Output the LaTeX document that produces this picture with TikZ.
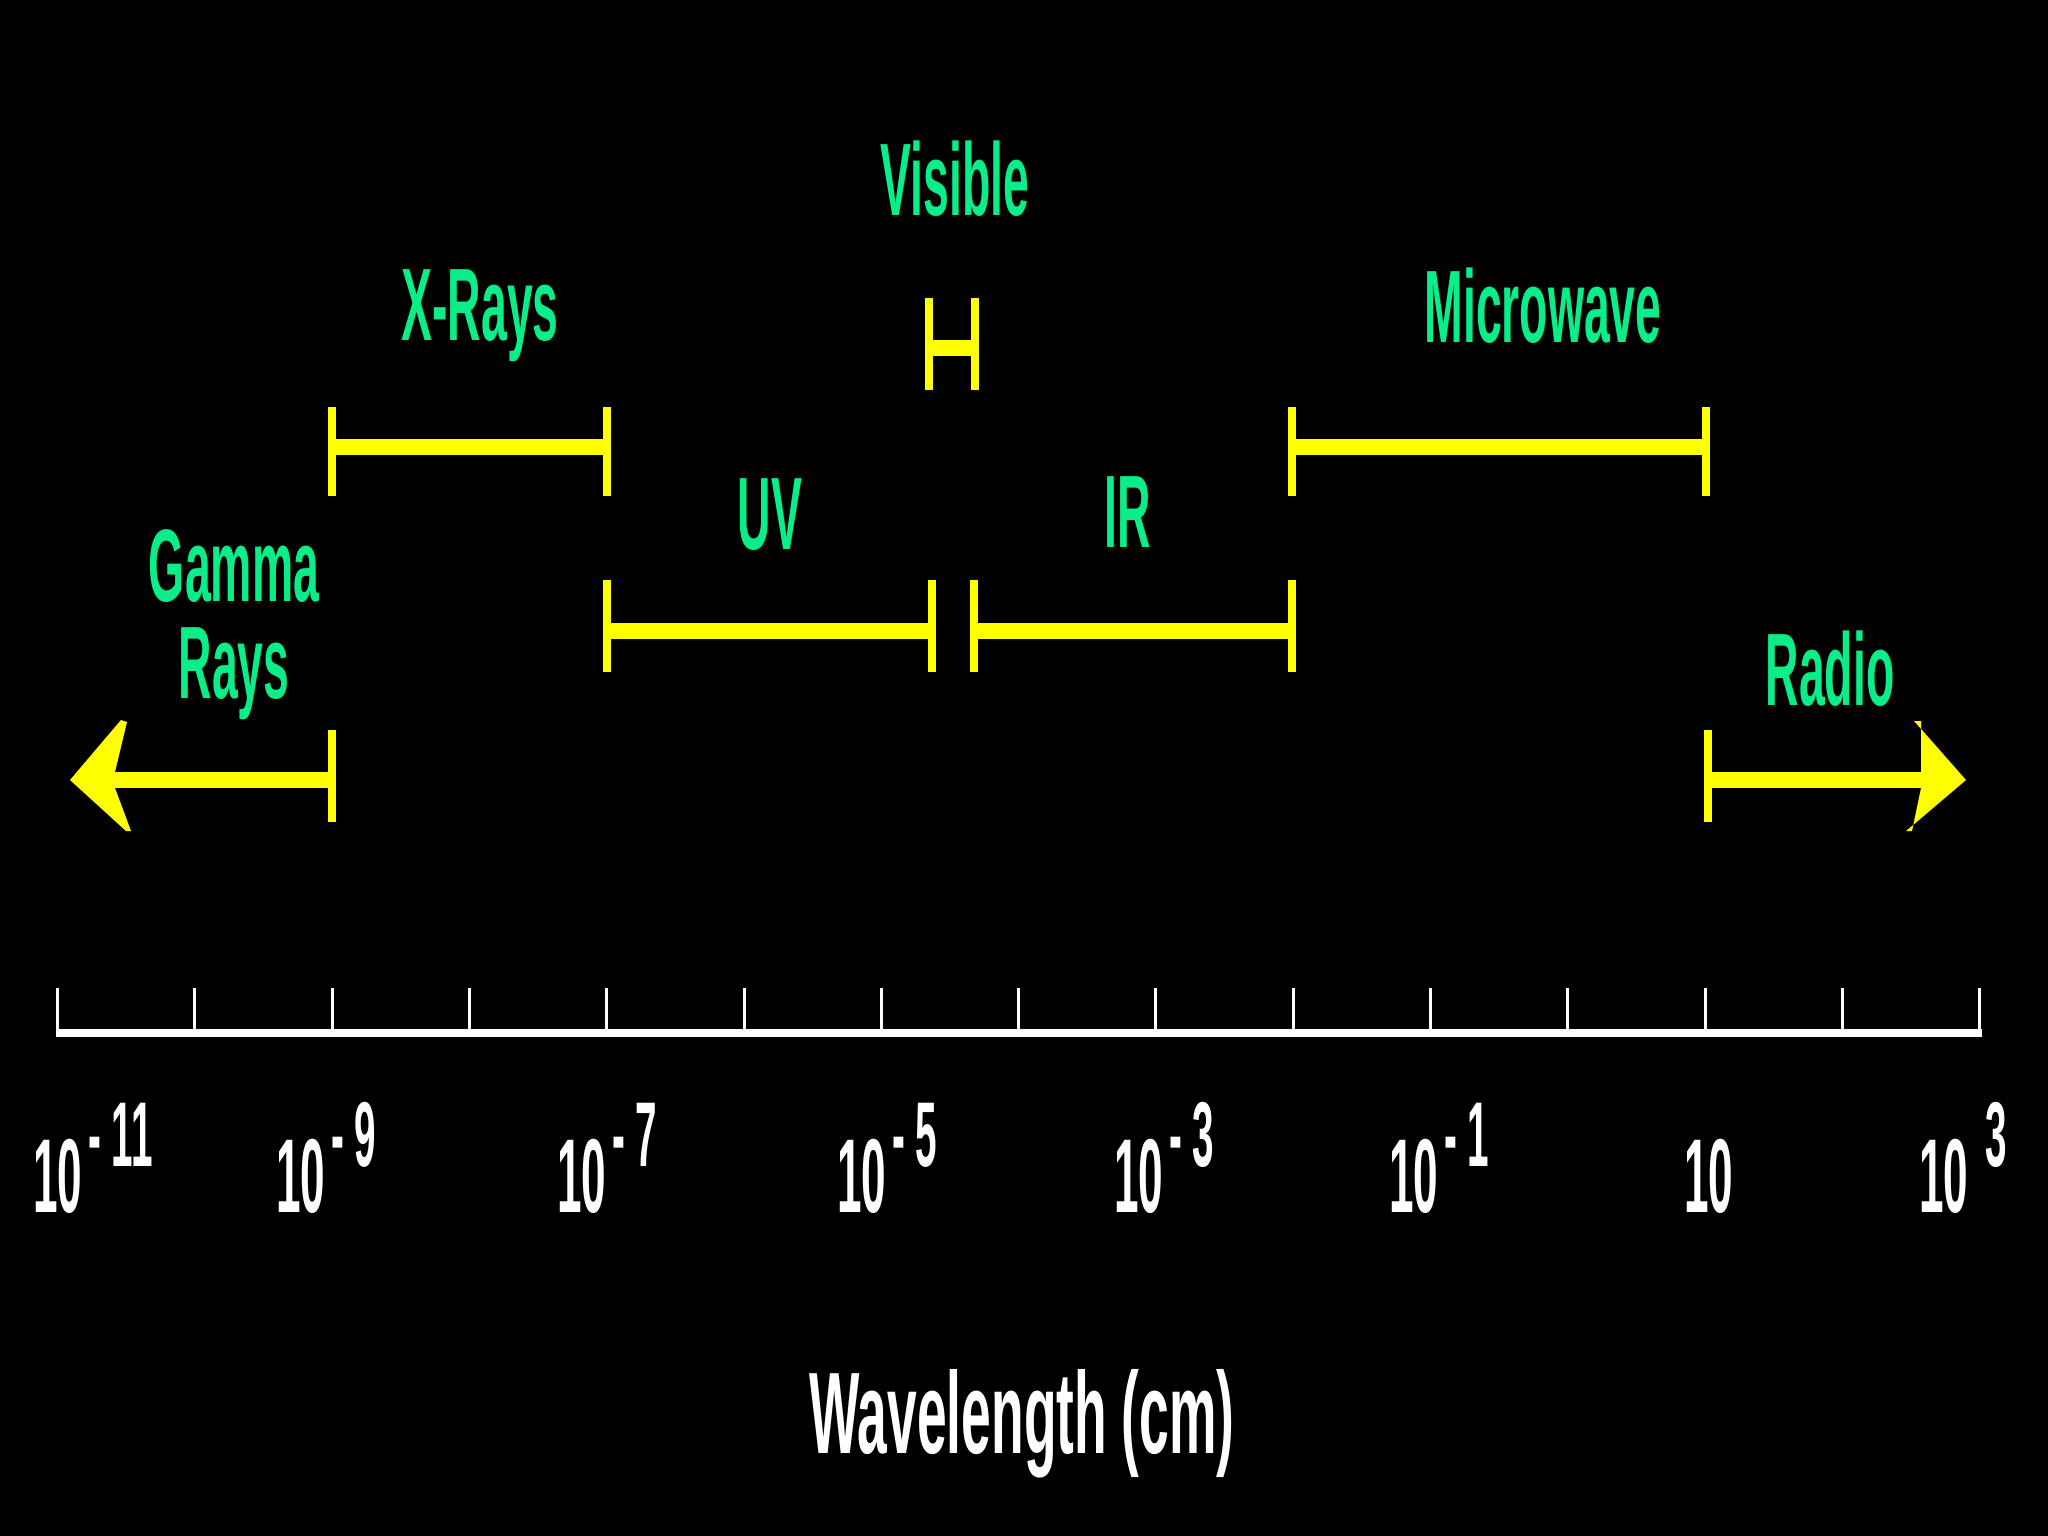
\documentclass[tikz,border=0pt]{standalone}
\usepackage{fontspec}
\usepackage{graphicx}
\setmainfont{Liberation Sans}
\usetikzlibrary{calc}
\definecolor{labgreen}{RGB}{10,238,138}
\definecolor{baryellow}{RGB}{255,255,0}
\newcommand{\nar}[1]{\scalebox{0.45}[1]{#1}}
\newcommand{\pw}[1]{\scalebox{0.42}[1]{10\hspace{14pt}\raisebox{46pt}{\fontsize{92}{92}\selectfont -\hspace{26pt}#1}}}
\tikzset{
  lab/.style={text=labgreen, inner sep=0pt, anchor=base, font=\fontsize{103}{103}\selectfont\bfseries},
  num/.style={text=white, inner sep=0pt, anchor=base west, font=\fontsize{105}{105}\selectfont\bfseries},
  bar/.style={draw=baryellow, line width=16pt},
  endtick/.style={draw=baryellow, line width=8pt},
  head/.style={fill=baryellow, draw=none},
  axisline/.style={draw=white, line width=8pt},
  axistick/.style={draw=white, line width=3pt}
}
\begin{document}
\begin{tikzpicture}[x=1pt,y=-1pt]
\useasboundingbox (0,0) rectangle (2048,1536);
\fill[black] (0,0) rectangle (2048,1536);

% ---- labels ----
\node[lab] (visible) at (955,215) {\nar{Visible}};
\node[lab] (xrays) at (480,340) {\nar{X-Rays}};
\node[lab] (micro) at (1543,342) {\nar{Microwave}};
\node[lab] (uv) at (770,549) {\nar{UV}};
\node[lab] (ir) at (1128,547) {\nar{IR}};
\node[lab] (gamma1) at (234,601) {\nar{Gamma}};
\node[lab] (gamma2) at (234,698) {\nar{Rays}};
\node[lab] (radio) at (1830,705) {\nar{Radio}};

% ---- bar coordinates ----
\coordinate (g-l) at (110,780);   \coordinate (g-r) at (332,780);
\coordinate (x-l) at (332,447);   \coordinate (x-r) at (607,447);
\coordinate (u-l) at (607,631);   \coordinate (u-r) at (932,631);
\coordinate (i-l) at (974,631);   \coordinate (i-r) at (1292,631);
\coordinate (v-l) at (929,348);   \coordinate (v-r) at (975,348);
\coordinate (m-l) at (1292,447);  \coordinate (m-r) at (1706,447);
\coordinate (r-l) at (1708,780);  \coordinate (r-r) at (1925,780);

% ---- bars ----
\draw[bar] (g-l) -- (g-r);
\draw[bar] (x-l) -- (x-r);
\draw[bar] (u-l) -- (u-r);
\draw[bar] (i-l) -- (i-r);
\draw[bar] (v-l) -- (v-r);
\draw[bar] (m-l) -- (m-r);
\draw[bar] (r-l) -- (r-r);

% ---- end ticks ----
\draw[endtick] ($(g-r)+(0,-50)$) -- ($(g-r)+(0,42)$);
\draw[endtick] ($(x-l)+(0,-40)$) -- ($(x-l)+(0,49)$);
\draw[endtick] ($(x-r)+(0,-40)$) -- ($(x-r)+(0,49)$);
\draw[endtick] ($(u-l)+(0,-51)$) -- ($(u-l)+(0,41)$);
\draw[endtick] ($(u-r)+(0,-51)$) -- ($(u-r)+(0,41)$);
\draw[endtick] ($(i-l)+(0,-51)$) -- ($(i-l)+(0,41)$);
\draw[endtick] ($(i-r)+(0,-51)$) -- ($(i-r)+(0,41)$);
\draw[endtick] ($(v-l)+(0,-50)$) -- ($(v-l)+(0,42)$);
\draw[endtick] ($(v-r)+(0,-50)$) -- ($(v-r)+(0,42)$);
\draw[endtick] ($(m-l)+(0,-40)$) -- ($(m-l)+(0,49)$);
\draw[endtick] ($(m-r)+(0,-40)$) -- ($(m-r)+(0,49)$);
\draw[endtick] ($(r-l)+(0,-50)$) -- ($(r-l)+(0,42)$);

% ---- arrowheads ----
\fill[head] (70,780) -- (121,720) -- (127,722) -- (115,772) -- (115,788) -- (131,831) -- (126,831) -- cycle;
\fill[head] (1966,780) -- (1914,721) -- (1921,721) -- (1921,772) -- (1921,788) -- (1912,831) -- (1906,831) -- cycle;

% ---- axis ----
\coordinate (ax-l) at (57.5,1033);
\coordinate (ax-r) at (1980,1033);
\draw[axisline] ($(ax-l)+(-1.5,0)$) -- ($(ax-r)+(1.5,0)$);
\foreach \i in {0,...,14} {
  \coordinate (t\i) at ({57.5+137.3*\i},1030);
  \draw[axistick] (t\i) -- ($(t\i)+(0,-42)$);
}

% ---- numbers ----
\node[num] (n1) at (33,1212) {\pw{11}};
\node[num] (n2) at (276,1212) {\pw{9}};
\node[num] (n3) at (557,1212) {\pw{7}};
\node[num] (n4) at (837,1212) {\pw{5}};
\node[num] (n5) at (1114,1212) {\pw{3}};
\node[num] (n6) at (1389,1212) {\pw{1}};
\node[num] (n7) at (1684,1212) {\scalebox{0.42}[1]{10}};
\node[num] (n8) at (1919,1212) {\scalebox{0.42}[1]{10\hspace{40pt}\raisebox{46pt}{\fontsize{92}{92}\selectfont 3}}};

% ---- axis title ----
\node[text=white, inner sep=0pt, anchor=base, font=\fontsize{116}{116}\selectfont\bfseries] (title) at (1022,1453) {\scalebox{0.46}[1]{Wavelength (cm)}};
\end{tikzpicture}
\end{document}
